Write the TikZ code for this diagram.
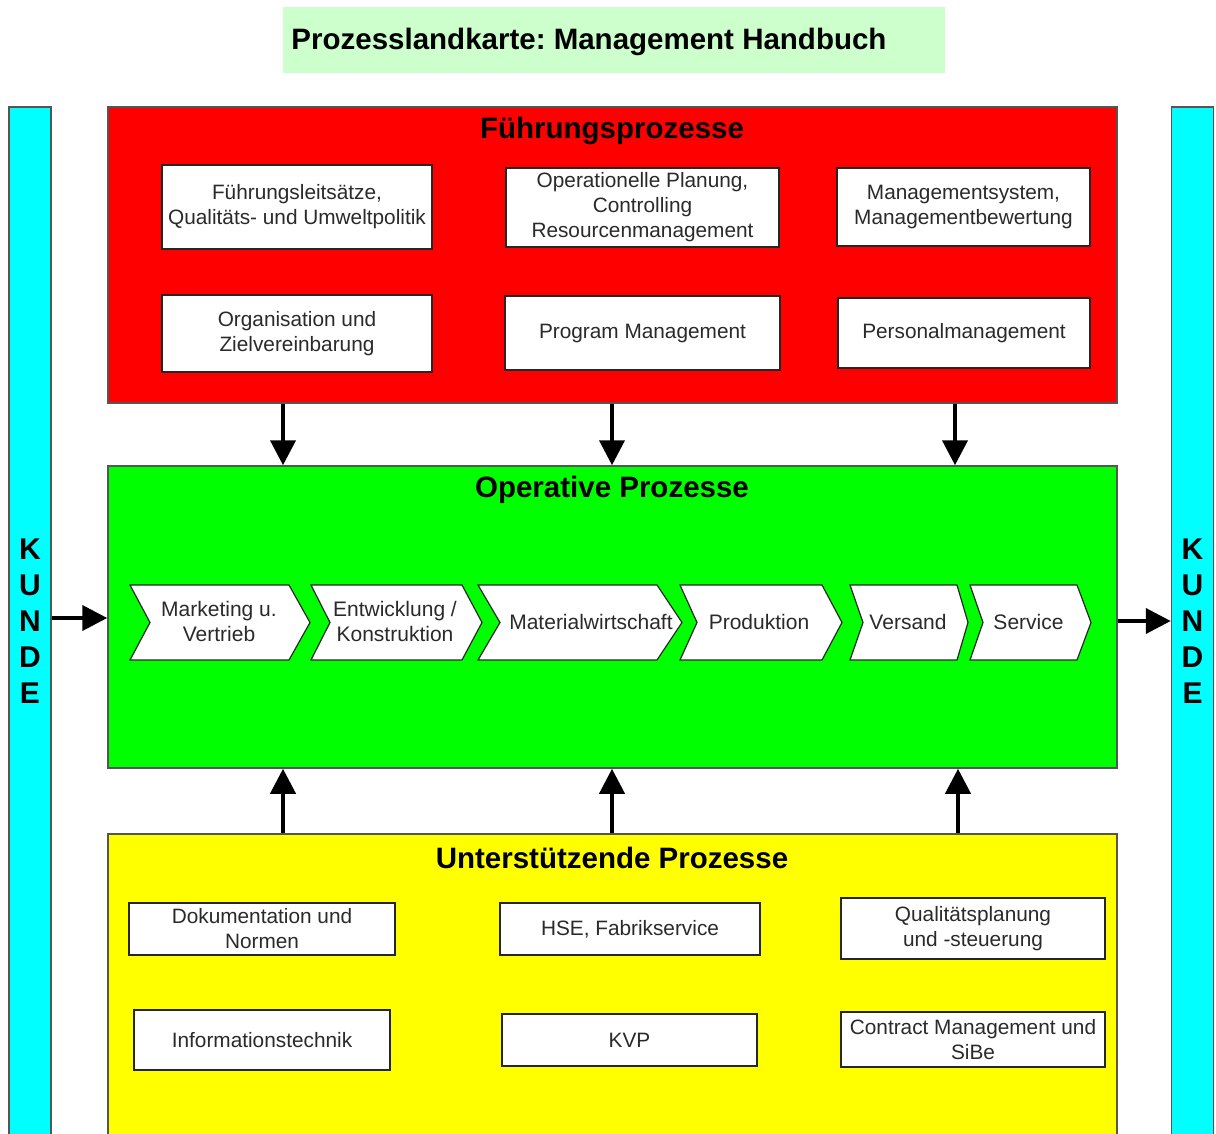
\documentclass[tikz,border=0pt]{standalone}
\usepackage{fontspec}
\setmainfont{Liberation Sans}
\usetikzlibrary{arrows.meta}
\definecolor{titlebg}{HTML}{CCFFCC}
\definecolor{frame}{HTML}{555555}
\definecolor{boxtext}{HTML}{2A2A2A}
\definecolor{fred}{HTML}{FF0000}
\definecolor{fgreen}{HTML}{00FF00}
\definecolor{fyellow}{HTML}{FFFF00}
\definecolor{fcyan}{HTML}{00FFFF}
\frenchspacing
\begin{document}
\begin{tikzpicture}[x=1pt,y=-1pt,
  bigbox/.style={draw=frame,line width=1.5pt,inner sep=0pt},
  sbox/.style={draw=black!85,fill=white,line width=1.3pt,inner sep=0pt,align=center,
    text=boxtext,font=\fontsize{20.8}{25}\selectfont},
  headline/.style={font=\fontsize{29.5}{32}\selectfont\bfseries,inner sep=0pt},
  kunde/.style={draw=frame,line width=1.5pt,fill=fcyan,inner sep=0pt,minimum width=42pt,minimum height=1040pt},
  kundetext/.style={font=\fontsize{30}{36}\selectfont\bfseries,align=center,inner sep=0pt},
  chev/.style={draw=black!85,fill=white,line width=1.2pt,line join=miter},
  chevtext/.style={text=boxtext,font=\fontsize{21}{25}\selectfont,align=center,inner sep=0pt},
  bigarrow/.style={line width=4pt,-{Triangle[length=25pt,width=25pt]}}]
\useasboundingbox (0,0) rectangle (1216,1133);
\clip (0,0) rectangle (1216,1133);
% title
\node[fill=titlebg,minimum width=662pt,minimum height=66pt,inner sep=0pt] (title) at (614,40) {};
\node[headline] (titletext) at (589,42) {Prozesslandkarte: Management Handbuch};
% customer bars
\node[kunde,anchor=north] (kl) at (30,106) {};
\node[kunde,anchor=north] (kr) at (1192.5,106) {};
\node[kundetext] (klt) at (30,621) {K\\U\\N\\D\\E};
\node[kundetext] (krt) at (1192.5,621) {K\\U\\N\\D\\E};
% main boxes
\node[bigbox,fill=fred,minimum width=1009pt,minimum height=296pt] (red) at (612.5,255) {};
\node[bigbox,fill=fgreen,minimum width=1009pt,minimum height=302pt] (green) at (612.5,617) {};
\node[bigbox,fill=fyellow,minimum width=1009pt,minimum height=320pt,anchor=north] (yellow) at (612.5,833) {};
\node[headline] (redt) at (612,131) {Führungsprozesse};
\node[headline] (greent) at (612,490) {Operative Prozesse};
\node[headline] (yellowt) at (612,858) {Unterstützende Prozesse};
% Führungsprozesse boxes
\node[sbox,minimum width=270pt,minimum height=84pt] (f1) at (297,207) {Führungsleitsätze,\\Qualitäts- und Umweltpolitik};
\node[sbox,minimum width=273pt,minimum height=79pt] (f2) at (642.5,207.5) {Operationelle Planung,\\Controlling\\Resourcenmanagement};
\node[sbox,minimum width=253pt,minimum height=78pt] (f3) at (963.5,207) {Managementsystem,\\Managementbewertung};
\node[sbox,minimum width=270pt,minimum height=77pt] (f4) at (297,333.5) {Organisation und\\Zielvereinbarung};
\node[sbox,minimum width=275pt,minimum height=74pt] (f5) at (642.5,333) {Program Management};
\node[sbox,minimum width=252pt,minimum height=70pt] (f6) at (964,333) {Personalmanagement};
% Unterstützende boxes
\node[sbox,minimum width=266pt,minimum height=52pt] (u1) at (262,929) {Dokumentation und\\Normen};
\node[sbox,minimum width=260pt,minimum height=52pt] (u2) at (630,929) {HSE, Fabrikservice};
\node[sbox,minimum width=264pt,minimum height=61pt] (u3) at (973,928.5) {Qualitätsplanung\\und -steuerung};
\node[sbox,minimum width=256pt,minimum height=60pt] (u4) at (262,1040) {Informationstechnik};
\node[sbox,minimum width=255pt,minimum height=52pt] (u5) at (629.5,1040) {KVP};
\node[sbox,minimum width=264pt,minimum height=55pt] (u6) at (973,1039.5) {Contract Management und\\SiBe};
% chevrons
\draw[chev] (130,585) -- (289,585) -- (310,622.5) -- (289,660) -- (130,660) -- (150,622.5) -- cycle;
\draw[chev] (311,585) -- (462,585) -- (482,622.5) -- (462,660) -- (311,660) -- (330,622.5) -- cycle;
\draw[chev] (478,585) -- (657,585) -- (682,622.5) -- (657,660) -- (478,660) -- (500,622.5) -- cycle;
\draw[chev] (680,585) -- (822,585) -- (842,622.5) -- (822,660) -- (680,660) -- (697,622.5) -- cycle;
\draw[chev] (850,585) -- (957,585) -- (968,622.5) -- (957,660) -- (850,660) -- (863,622.5) -- cycle;
\draw[chev] (970,585) -- (1077,585) -- (1091,622.5) -- (1077,660) -- (970,660) -- (983,622.5) -- cycle;
\node[chevtext] (c1) at (219,621) {Marketing u.\\Vertrieb};
\node[chevtext] (c2) at (395,621) {Entwicklung /\\Konstruktion};
\node[chevtext] (c3) at (591,622) {Materialwirtschaft};
\node[chevtext] (c4) at (759,622) {Produktion};
\node[chevtext] (c5) at (908,622) {Versand};
\node[chevtext] (c6) at (1028.5,622) {Service};
% connectors
\coordinate (xa) at (283,0);
\coordinate (xb) at (612,0);
\coordinate (xc) at (955,0);
\coordinate (xd) at (958,0);
\coordinate (yl) at (0,618);
\coordinate (yr) at (0,621);
\draw[bigarrow] (red.south -| xa) -- (green.north -| xa);
\draw[bigarrow] (red.south -| xb) -- (green.north -| xb);
\draw[bigarrow] (red.south -| xc) -- (green.north -| xc);
\draw[bigarrow] (yellow.north -| xa) -- (green.south -| xa);
\draw[bigarrow] (yellow.north -| xb) -- (green.south -| xb);
\draw[bigarrow] (yellow.north -| xd) -- (green.south -| xd);
\draw[bigarrow] (kl.east |- yl) -- (green.west |- yl);
\draw[bigarrow] (green.east |- yr) -- (kr.west |- yr);
\end{tikzpicture}
\end{document}
